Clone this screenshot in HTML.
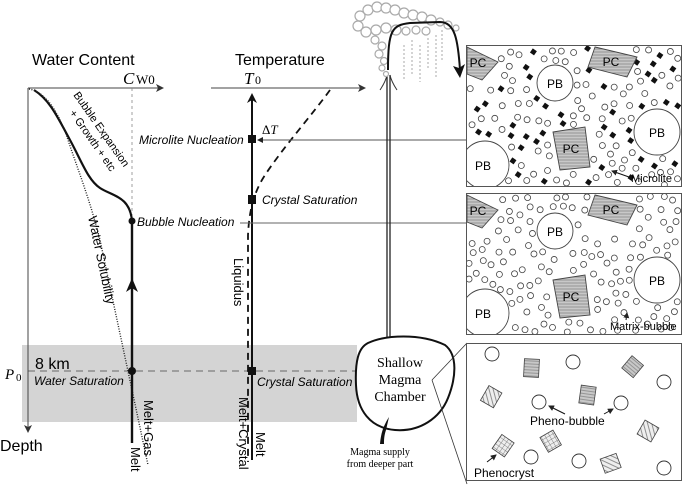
<!DOCTYPE html>
<html><head><meta charset="utf-8"><style>
html,body{margin:0;padding:0;background:#fff;}
svg{display:block;font-family:"Liberation Sans",sans-serif;}
</style></head><body>
<svg id="s" width="685" height="485" viewBox="0 0 685 485" xmlns="http://www.w3.org/2000/svg">
<defs>
<pattern id="hz" width="4" height="3" patternUnits="userSpaceOnUse"><rect width="4" height="3" fill="#c8c8c8"/><line x1="0" y1="1" x2="4" y2="1" stroke="#888" stroke-width="0.8"/></pattern>
<pattern id="dg" width="4" height="4" patternUnits="userSpaceOnUse" patternTransform="rotate(45)"><rect width="4" height="4" fill="#eee"/><line x1="0" y1="1" x2="4" y2="1" stroke="#777" stroke-width="0.8"/></pattern>
<pattern id="gr" width="4" height="4" patternUnits="userSpaceOnUse"><rect width="4" height="4" fill="#eee"/><path d="M0 0H4M0 0V4" stroke="#666" stroke-width="0.8"/></pattern>
<marker id="ah" markerWidth="8" markerHeight="8" refX="7" refY="4" orient="auto" markerUnits="userSpaceOnUse"><path d="M0 0L8 4L0 8L2 4Z" fill="#333"/></marker>
<marker id="as" markerWidth="6" markerHeight="6" refX="5" refY="3" orient="auto" markerUnits="userSpaceOnUse"><path d="M0 0L6 3L0 6Z" fill="#222"/></marker>
</defs>
<rect x="22" y="345" width="335" height="77" fill="#d4d4d4"/>
<line x1="28" y1="88" x2="163" y2="88" stroke="#444" marker-end="url(#ah)"/>
<line x1="28" y1="88" x2="28" y2="432" stroke="#444" marker-end="url(#ah)"/>
<text x="32" y="65" font-size="16">Water Content</text>
<text x="123" y="84" font-size="17" font-family="Liberation Serif" font-style="italic">C</text><text x="136" y="84" font-size="13" font-family="Liberation Serif">W0</text>
<text x="0" y="451" font-size="16">Depth</text>
<text x="5" y="379" font-size="15" font-family="Liberation Serif" font-style="italic">P</text><text x="16" y="381" font-size="11" font-family="Liberation Serif">0</text>
<text x="35" y="369" font-size="16">8 km</text>
<text x="34" y="385" font-size="12" font-style="italic">Water Saturation</text>
<line x1="132" y1="88" x2="132" y2="215" stroke="#888" stroke-dasharray="3,3" stroke-width="0.8"/>
<line x1="28" y1="371" x2="360" y2="371" stroke="#444" stroke-dasharray="7,5" stroke-width="0.8"/>
<path d="M34 90 C50 100 58 118 70 140 C82 162 88 180 100 188 C112 196 130 196 132 221" fill="none" stroke="#111" stroke-width="2.2"/>
<path d="M29 89 C45 92 58 110 68 140 C78 170 90 200 100 240 L148 465" fill="none" stroke="#222" stroke-width="1.4" stroke-dasharray="1,1.5"/>
<line x1="132" y1="221" x2="132" y2="443" stroke="#111" stroke-width="2.4"/>
<path d="M126 292 L132 278 L138 292 L132 288Z" fill="#111"/>
<circle cx="132" cy="221" r="3.5" fill="#111"/>
<circle cx="132" cy="371" r="4" fill="#111"/>
<text transform="translate(73,95) rotate(55)" font-size="11">Bubble Expansion</text>
<text transform="translate(69,113) rotate(55)" font-size="11">+ Growth + etc</text>
<text transform="translate(88,217) rotate(78)" font-size="13">Water Solubility</text>
<text transform="translate(131,447) rotate(90)" font-size="13">Melt</text>
<text transform="translate(144,400) rotate(90)" font-size="13">Melt+Gas</text>
<text x="137" y="226" font-size="12" font-style="italic">Bubble Nucleation</text>
<line x1="211" y1="88" x2="365" y2="88" stroke="#444" marker-end="url(#ah)"/>
<text x="235" y="65" font-size="16">Temperature</text>
<text x="244" y="84" font-size="17" font-family="Liberation Serif" font-style="italic">T</text><text x="255" y="84" font-size="12" font-family="Liberation Serif">0</text>
<line x1="252" y1="460" x2="252" y2="100" stroke="#111" stroke-width="2"/>
<path d="M247 103 L252 93 L257 103 L252 100Z" fill="#111"/>
<path d="M330 90 C312 115 285 145 265 175 C252 195 249 215 248 235 L248 462" fill="none" stroke="#111" stroke-width="1.8" stroke-dasharray="7,5"/>
<rect x="248" y="135" width="8" height="8" fill="#111"/>
<rect x="248" y="195" width="8" height="9" fill="#111"/>
<rect x="248" y="367" width="8" height="8" fill="#111"/>
<text x="139" y="144" font-size="12" font-style="italic">Microlite Nucleation</text>
<text x="262" y="204" font-size="12" font-style="italic">Crystal Saturation</text>
<text x="257" y="386" font-size="12" font-style="italic">Crystal Saturation</text>
<text x="262" y="134" font-size="13" font-family="Liberation Serif">Δ<tspan font-style="italic">T</tspan></text>
<line x1="466" y1="140" x2="258" y2="140" stroke="#555" marker-end="url(#as)"/>
<line x1="240" y1="223" x2="466" y2="223" stroke="#666"/>
<text transform="translate(234,258) rotate(90)" font-size="13">Liquidus</text>
<text transform="translate(239,397) rotate(90)" font-size="13">Melt+Crystal</text>
<text transform="translate(256,432) rotate(90)" font-size="13">Melt</text>
<line x1="387" y1="75" x2="387" y2="340" stroke="#222" stroke-width="1.3"/>
<line x1="390" y1="75" x2="390" y2="340" stroke="#222" stroke-width="1.3"/>
<path d="M380 90 C384 84 386 80 387 75 M397 90 C393 84 391 80 390 75" fill="none" stroke="#333"/>
<path d="M368 343 C385 335 420 333 445 345 C458 355 456 378 448 398 C440 418 420 432 395 430 C370 428 357 410 356 385 C355 362 358 348 368 343Z" fill="#fff" stroke="#111" stroke-width="2"/>
<text x="400" y="367" font-size="14" font-family="Liberation Serif" text-anchor="middle">Shallow</text>
<text x="400" y="384" font-size="14" font-family="Liberation Serif" text-anchor="middle">Magma</text>
<text x="400" y="401" font-size="14" font-family="Liberation Serif" text-anchor="middle">Chamber</text>
<path d="M380 444 C381 432 384 425 389 417 L386 430 C384 436 384 440 384 444Z" fill="#111"/>
<text x="380" y="455" font-size="10" font-family="Liberation Serif" text-anchor="middle">Magma supply</text>
<text x="380" y="467" font-size="10" font-family="Liberation Serif" text-anchor="middle">from deeper part</text>
<line x1="432" y1="380" x2="467" y2="343" stroke="#333" stroke-width="0.8"/>
<line x1="432" y1="380" x2="467" y2="484" stroke="#333" stroke-width="0.8"/>
<!-- cloud -->
<g fill="#fff" stroke="#aaa" stroke-width="1.2">
<circle cx="360" cy="16" r="5"/><circle cx="368" cy="10" r="5"/><circle cx="377" cy="7" r="5"/><circle cx="386" cy="8" r="5"/><circle cx="395" cy="10" r="5"/><circle cx="404" cy="13" r="5"/><circle cx="413" cy="15" r="5"/><circle cx="422" cy="17" r="5"/><circle cx="431" cy="20" r="5"/><circle cx="440" cy="22" r="4"/><circle cx="448" cy="25" r="4"/><circle cx="456" cy="28" r="3"/>
<circle cx="358" cy="26" r="5"/><circle cx="366" cy="32" r="5"/><circle cx="376" cy="30" r="5"/><circle cx="386" cy="28" r="5"/><circle cx="396" cy="30" r="5"/><circle cx="406" cy="31" r="4"/><circle cx="416" cy="30" r="4"/><circle cx="426" cy="31" r="4"/>
<circle cx="375" cy="40" r="4"/><circle cx="382" cy="46" r="4"/><circle cx="379" cy="54" r="4"/><circle cx="384" cy="61" r="3.5"/><circle cx="382" cy="68" r="3"/><circle cx="386" cy="74" r="2.5"/>
</g>
<g stroke="#aaa" stroke-dasharray="2,2"><line x1="404" y1="45" x2="404" y2="80"/><line x1="412" y1="40" x2="412" y2="75"/><line x1="420" y1="45" x2="420" y2="82"/><line x1="428" y1="38" x2="428" y2="70"/><line x1="436" y1="35" x2="436" y2="78"/><line x1="442" y1="30" x2="442" y2="62"/></g>
<path d="M388 70 C388 30 392 25 410 23 L440 22 C455 22 458 40 460 70" fill="none" stroke="#111" stroke-width="2"/>
<path d="M453 66 L460 78 L465 64 L459 68Z" fill="#111"/>
<rect x="466.5" y="45.5" width="215" height="141" fill="#fff" stroke="#555"/>
<rect x="466.5" y="193.5" width="215" height="141" fill="#fff" stroke="#555"/>
<rect x="466.5" y="343.5" width="215" height="137" fill="#fff" stroke="#555"/>
<g id="dots"></g>
<g id="big"></g>
<g fill="#fff" stroke="#333" stroke-width="0.9">
<circle cx="492" cy="354" r="7"/><circle cx="573" cy="362" r="7"/><circle cx="664" cy="382" r="7"/><circle cx="539" cy="402" r="7"/><circle cx="621" cy="403" r="7"/><circle cx="531" cy="457" r="7"/><circle cx="579" cy="461" r="7"/><circle cx="664" cy="468" r="7"/>
</g>
<g stroke="#444" stroke-width="0.8">
<rect x="524" y="359" width="15" height="18" fill="url(#hz)" transform="rotate(3 531 368)"/>
<rect x="625" y="359" width="15" height="16" fill="url(#hz)" transform="rotate(40 633 367)"/>
<rect x="484" y="388" width="15" height="17" fill="url(#dg)" transform="rotate(30 491 396)"/>
<rect x="580" y="386" width="15" height="18" fill="url(#hz)" transform="rotate(8 587 395)"/>
<rect x="640" y="423" width="16" height="16" fill="url(#dg)" transform="rotate(30 648 431)"/>
<rect x="496" y="437" width="15" height="17" fill="url(#gr)" transform="rotate(35 503 445)"/>
<rect x="543" y="433" width="15" height="17" fill="url(#gr)" transform="rotate(-30 550 441)"/>
<rect x="602" y="456" width="17" height="15" fill="url(#dg)" transform="rotate(-20 610 463)"/>
</g>
<line x1="565" y1="414" x2="549" y2="406" stroke="#111" marker-end="url(#as)"/>
<line x1="604" y1="414" x2="613" y2="409" stroke="#111" marker-end="url(#as)"/>
<text x="530" y="425" font-size="12">Pheno-bubble</text>
<line x1="487" y1="462" x2="496" y2="455" stroke="#111" marker-end="url(#as)"/>
<text x="474" y="477" font-size="12">Phenocryst</text>
<text x="631" y="182" font-size="11">Microlite</text>
<line x1="629" y1="177" x2="612" y2="171" stroke="#111" marker-end="url(#as)"/>
<text x="610" y="330" font-size="11">Matrix-bubble</text>
<line x1="626" y1="320" x2="627" y2="313" stroke="#111" marker-end="url(#as)"/>
</svg>
<script>
(function(){
var NS="http://www.w3.org/2000/svg";
var big=document.getElementById("big");
function el(p,t,a){var e=document.createElementNS(NS,t);for(var k in a)e.setAttribute(k,a[k]);p.appendChild(e);return e;}
var seed=7;function r(){seed=(seed*16807)%2147483647;return seed/2147483647;}
[[0,true],[148,false]].forEach(function(o){
 var d=o[0],top=45+d;
 var cl=el(big,"clipPath",{id:"c"+d});el(cl,"rect",{x:467,y:top+1,width:214,height:140});
 var g=el(big,"g",{"clip-path":"url(#c"+d+")"});
 var circ=[[555,83+d,18],[657,132+d,23],[485,165+d,24]];
 var pcs=[[[467,47+d],[498,62+d],[482,80+d],[467,74+d]],[[595,47+d],[637,57+d],[627,77+d],[588,67+d]],[[553,132+d],[585,127+d],[590,167+d],[560,170+d]]];
 var pts=[];
 for(var i=0;i<700&&pts.length<(o[1]?150:135);i++){
  var x=469+r()*210,y=top+3+r()*137,ok=true;
  for(var j=0;j<circ.length;j++){var c=circ[j];if(Math.hypot(x-c[0],y-c[1])<c[2]+4)ok=false;}
  for(j=0;j<3;j++){var p=pcs[j];var cx=(p[0][0]+p[2][0])/2,cy=(p[0][1]+p[2][1])/2;if(Math.abs(x-cx)<22&&Math.abs(y-cy)<24)ok=false;}
  for(j=0;j<pts.length;j++)if(Math.hypot(x-pts[j][0],y-pts[j][1])<8.5)ok=false;
  if(ok)pts.push([x,y]);
 }
 pts.forEach(function(p,i){
  if(o[1]&&i%3==0) el(g,"rect",{x:p[0]-2.5,y:p[1]-2.5,width:5,height:5,fill:"#111",transform:"rotate(35 "+p[0]+" "+p[1]+")"});
  else el(g,"circle",{cx:p[0],cy:p[1],r:3,fill:"#fff",stroke:"#444","stroke-width":0.8});
 });
 circ.forEach(function(c){el(g,"circle",{cx:c[0],cy:c[1],r:c[2],fill:"#fff",stroke:"#444","stroke-width":0.9});});
 pcs.forEach(function(p){el(g,"polygon",{points:p.map(function(q){return q.join(",")}).join(" "),fill:"url(#hz)",stroke:"#444","stroke-width":0.9});});
 var lab=[[555,88+d,"PB"],[657,137+d,"PB"],[483,170+d,"PB"],[478,67+d,"PC"],[611,66+d,"PC"],[571,153+d,"PC"]];
 lab.forEach(function(l){var t=el(g,"text",{x:l[0],y:l[1],"font-size":12,"text-anchor":"middle"});t.textContent=l[2];});
});
})();
</script>
</body></html>
